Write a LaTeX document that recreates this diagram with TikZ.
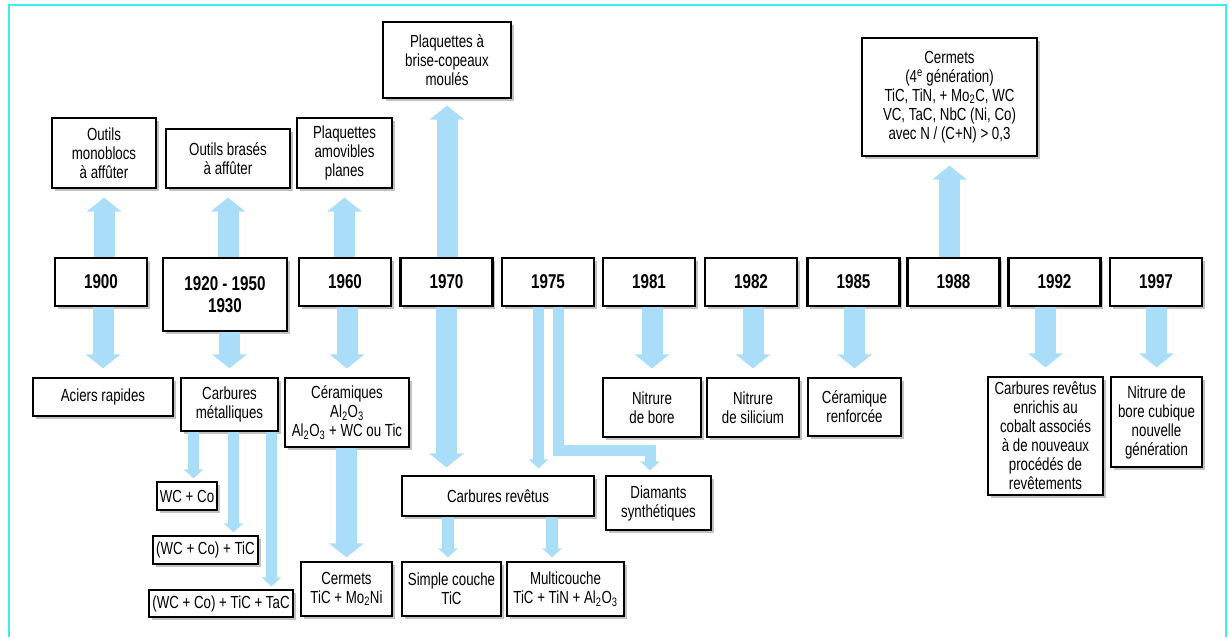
\documentclass[tikz,border=0pt]{standalone}
\usepackage{fontspec}
\setmainfont{Liberation Sans}[FakeStretch=0.76]
\usetikzlibrary{arrows.meta,shadows}
\definecolor{arrowblue}{RGB}{170,222,248}
\definecolor{framecyan}{RGB}{60,238,238}
\begin{document}
\begin{tikzpicture}[x=1pt,y=-1pt,
    box/.style={draw, line width=1.2pt, fill=white, align=center, inner sep=1pt,
        font=\fontsize{17.5}{19}\selectfont,
        drop shadow={shadow xshift=2.5pt,shadow yshift=-2.5pt,fill=black!40,opacity=.6}},
    yearbox/.style={box, line width=2.4pt, minimum width=92pt, minimum height=48pt,
        font=\fontsize{20}{22}\selectfont\bfseries},
    fat/.style={draw=arrowblue, line width=21pt, -{Triangle[length=14pt,width=34pt]}, shorten >=9pt},
    slim/.style={draw=arrowblue, line width=11pt, -{Triangle[length=9pt,width=19pt]}, shorten >=3pt}]
\useasboundingbox (0,0) rectangle (1230,637);
\draw[framecyan, line width=1.5pt] (9,637) -- (9,5) -- (1226,5) -- (1226,637);

% years
\node[yearbox] (y1900) at (101,282) {1900};
\node[yearbox, minimum width=124pt, minimum height=73pt] (y1920) at (225,294.5) {1920 - 1950\\1930};
\foreach \yr/\xx in {1960/345, 1970/446.5, 1975/548, 1981/649, 1982/751,
    1985/853.5, 1988/953.5, 1992/1054.5, 1997/1156}
  \node[yearbox] (y\yr) at (\xx,282) {\yr};

% upper row
\node[box, minimum width=104pt, minimum height=70pt] (monoblocs) at (104,153) {Outils\\monoblocs\\à affûter};
\node[box, minimum width=124pt, minimum height=59pt] (brases) at (228,158.5) {Outils brasés\\à affûter};
\node[box, minimum width=95pt, minimum height=70pt] (planes) at (344.5,153) {Plaquettes\\amovibles\\planes};
\node[box, minimum width=128pt, minimum height=76pt] (brisecop) at (447,60) {Plaquettes à\\brise-copeaux\\moulés};
\node[box, minimum width=175pt, minimum height=118pt] (cermetsg) at (949.5,97)
  {Cermets\\(4\textsuperscript{e} génération)\\TiC, TiN, + Mo\textsubscript{2}C, WC\\VC, TaC, NbC (Ni, Co)\\avec N / (C+N) > 0,3};

% lower rows
\node[box, minimum width=140pt, minimum height=38pt] (aciers) at (103,397) {Aciers rapides};
\node[box, minimum width=97pt, minimum height=53pt] (carbmet) at (229.5,404.5) {Carbures\\métalliques};
\node[box, minimum width=124pt, minimum height=69pt] (ceram) at (347,412.5)
  {Céramiques\\Al\textsubscript{2}O\textsubscript{3}\\Al\textsubscript{2}O\textsubscript{3} + WC ou Tic};
\node[box, minimum width=98pt, minimum height=59pt] (nbore) at (652,407.5) {Nitrure\\de bore};
\node[box, minimum width=92pt, minimum height=59pt] (nsil) at (753,407.5) {Nitrure\\de silicium};
\node[box, minimum width=93pt, minimum height=58pt] (ceramr) at (854.5,407) {Céramique\\renforcée};
\node[box, minimum width=115pt, minimum height=118pt] (carbrevb) at (1045.5,436)
  {Carbures revêtus\\enrichis au\\cobalt associés\\à de nouveaux\\procédés de\\revêtements};
\node[box, minimum width=91pt, minimum height=90pt] (nbcub) at (1156.5,422) {Nitrure de\\bore cubique\\nouvelle\\génération};

\node[box, minimum width=60pt, minimum height=28pt] (wcco) at (187,496) {WC + Co};
\node[box, minimum width=105pt, minimum height=28pt] (wccotic) at (205.5,550) {(WC + Co) + TiC};
\node[box, minimum width=144pt, minimum height=27pt] (wccotictac) at (221,603.5) {(WC + Co) + TiC + TaC};
\node[box, minimum width=91pt, minimum height=54pt] (cermets) at (346.5,589) {Cermets\\TiC + Mo\textsubscript{2}Ni};
\node[box, minimum width=192pt, minimum height=40pt] (carbrev) at (498,496) {Carbures revêtus};
\node[box, minimum width=105pt, minimum height=54pt] (diam) at (658.5,503) {Diamants\\synthétiques};
\node[box, minimum width=99pt, minimum height=54pt] (simple) at (451.5,589) {Simple couche\\TiC};
\node[box, minimum width=117pt, minimum height=54pt] (multi) at (565.5,589)
  {Multicouche\\TiC + TiN + Al\textsubscript{2}O\textsubscript{3}};

% arrows up
\draw[fat] (y1900.north -| monoblocs.south) -- (monoblocs.south);
\draw[fat] (y1920.north -| brases.south) -- (brases.south);
\draw[fat] (y1960.north -| planes.south) -- (planes.south);
\draw[fat, shorten >=7pt] (y1970.north -| brisecop.south) -- (brisecop.south);
\draw[fat] (y1988.north -| cermetsg.south) -- (cermetsg.south);

% arrows down
\draw[fat] (y1900.south -| aciers.north) -- (aciers.north);
\draw[fat] (y1920.south -| carbmet.north) -- (carbmet.north);
\draw[fat] (y1960.south -| ceram.north) -- (ceram.north);
\draw[fat, shorten >=4pt] (ceram.south -| cermets.north) -- (cermets.north);
\draw[fat, shorten >=8pt] (y1970.south) -- (y1970.south |- carbrev.north);
\draw[fat] (y1981.south -| nbore.north) -- (nbore.north);
\draw[fat] (y1982.south -| nsil.north) -- (nsil.north);
\draw[fat] (y1985.south -| ceramr.north) -- (ceramr.north);
\draw[fat] (y1992.south -| carbrevb.north) -- (carbrevb.north);
\draw[fat] (y1997.south -| nbcub.north) -- (nbcub.north);

\draw[slim] ([xshift=-36pt]carbmet.south) -- ([xshift=-36pt]carbmet.south |- wcco.north);
\draw[slim] ([xshift=4pt]carbmet.south) -- ([xshift=4pt]carbmet.south |- wccotic.north);
\draw[slim] ([xshift=42pt]carbmet.south) -- ([xshift=42pt]carbmet.south |- wccotictac.north);
\draw[slim, shorten >=7pt] ([xshift=-9.5pt]y1975.south) -- ([xshift=-9.5pt]y1975.south |- carbrev.north);
\draw[slim, shorten >=5pt, line join=miter] ([xshift=10pt]y1975.south)
  |- ([xshift=-8.5pt,yshift=25pt]diam.north) -- ([xshift=-8.5pt]diam.north);
\draw[slim, line width=12pt, shorten >=4pt] ([xshift=-50pt]carbrev.south) -- ([xshift=-50pt]carbrev.south |- simple.north);
\draw[slim, line width=12pt, shorten >=4pt] ([xshift=54pt]carbrev.south) -- ([xshift=54pt]carbrev.south |- multi.north);
\end{tikzpicture}
\end{document}
